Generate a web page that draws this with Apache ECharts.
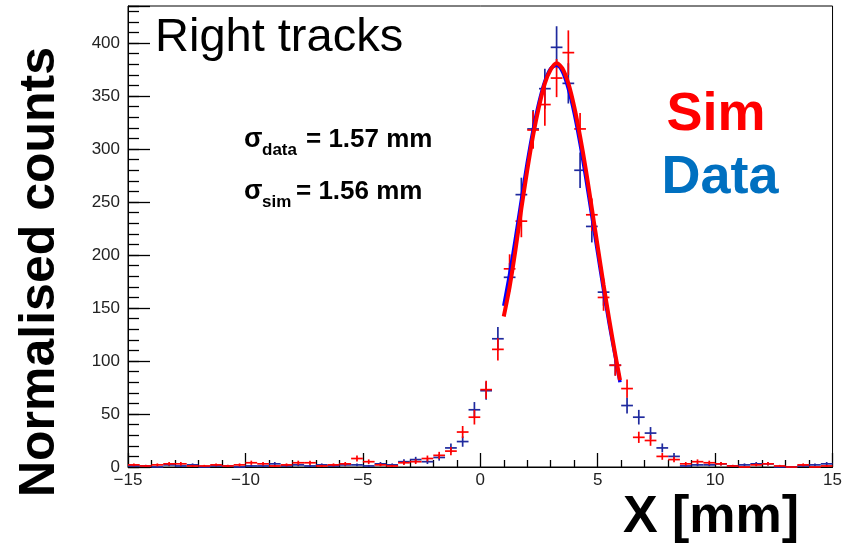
<!DOCTYPE html>
<html>
<head>
<meta charset="utf-8">
<script src="https://cdn.jsdelivr.net/npm/echarts/dist/echarts.min.js"></script>
<style>
html,body{margin:0;padding:0;background:#fff;}
#chart{width:845px;height:550px;}
</style>
</head>
<body>
<div id="chart"></div>
<script>
// Histogram bin centres (mm), bin width 0.5 mm
const binCenters = [-14.75,-14.25,-13.75,-13.25,-12.75,-12.25,-11.75,-11.25,-10.75,-10.25,
  -9.75,-9.25,-8.75,-8.25,-7.75,-7.25,-6.75,-6.25,-5.75,-5.25,
  -4.75,-4.25,-3.75,-3.25,-2.75,-2.25,-1.75,-1.25,-0.75,-0.25,
  0.25,0.75,1.25,1.75,2.25,2.75,3.25,3.75,4.25,4.75,
  5.25,5.75,6.25,6.75,7.25,7.75,8.25,8.75,9.25,9.75,
  10.25,10.75,11.25,11.75,12.25,12.75,13.25,13.75,14.25,14.75];
const binWidth = 0.5;

// Data (blue)
const dataValues = [1,1,0,2,1,2,0,1,1,0,
  1,1,3,1,2,1,2,1,2,2,
  1,3,2,5,7,5,9,18,24,54,
  72,121,179,257,319,357,396,362,280,227,
  165,96,58,47,32,18,10,1,2,2,
  3,1,2,3,3,0,0,1,2,3];
const dataErrors = [1,1,0,1.4,1,1.4,0,1,1,0,
  1,1,1.7,1,1.4,1,1.4,1,1.4,1.4,
  1,1.7,1.4,2.2,2.6,2.2,3,4.2,4.9,7.3,
  8.5,11,13.4,16,17.9,18.9,19.9,19,16.7,15.1,
  12.8,9.8,7.6,6.9,5.7,4.2,3.2,1,1.4,1.4,
  1.7,1,1.4,1.7,1.7,0,0,1,1.4,1.7];

// Simulation (red)
const simValues = [2,1,2,3,3,1,1,2,1,2,
  4,3,1,2,4,4,1,2,3,8,
  5,2,1,4,5,8,11,15,33,47,
  73,111,187,232,318,342,367,391,319,238,
  160,96,74,28,25,10,7,3,5,4,
  3,1,0,2,3,1,0,2,0,1];
const simErrors = [1.4,1,1.4,1.7,1.7,1,1,1.4,1,1.4,
  2,1.7,1,1.4,2,2,1,1.4,1.7,2.8,
  2.2,1.4,1,2,2.2,2.8,3.3,3.9,5.7,6.9,
  8.5,10.5,13.7,15.2,17.8,20,18,21,15,15.4,
  12.6,9.8,8.6,5.3,5,3.2,2.6,1.7,2.2,2,
  1.7,1,0,1.4,1.7,1,0,1.4,0,1];

// Gaussian fit curves
const fitX = [1.0,1.25,1.5,1.75,2.0,2.25,2.5,2.75,3.0,3.25,3.5,3.75,4.0,4.25,4.5,4.75,5.0,5.25,5.5,5.75,5.95];
const dataFit = [152,182,216,252,287,318,344,364,376,379,373,357,334,305,272,237,202,167,134,104,80];
const simFit = [142,170,205,244,280,313,340,362,375,381,376,362,340,312,280,244,208,172,138,106,82];

// Axis ticks
const xTickLabels = [-15,-10,-5,0,5,10,15];
const yTickLabels = [0,50,100,150,200,250,300,350,400];

const FONT = 'Liberation Sans';

function zip3(a,b,c){ const out=[]; for(let i=0;i<a.length;i++) out.push([a[i],b[i],c[i]]); return out; }
function zip2(a,b){ const out=[]; for(let i=0;i<a.length;i++) out.push([a[i],b[i]]); return out; }

function crossRender(color){
  return function(params, api){
    const x = api.value(0), y = api.value(1), e = api.value(2);
    const l = api.coord([x - binWidth/2, y]);
    const r = api.coord([x + binWidth/2, y]);
    const children = [
      {type:'line', shape:{x1:l[0],y1:l[1],x2:r[0],y2:r[1]}, style:{stroke:color,lineWidth:1.7}}
    ];
    if (e > 0) {
      const t = api.coord([x, y + e]);
      const b = api.coord([x, Math.max(0, y - e)]);
      children.push({type:'line', shape:{x1:t[0],y1:t[1],x2:b[0],y2:b[1]}, style:{stroke:color,lineWidth:1.7}});
    }
    return {type:'group', children};
  };
}

function fmtX(v){
  if (xTickLabels.indexOf(v) < 0) return '';
  return v < 0 ? '\u2212' + (-v) : String(v);
}
function fmtY(v){ return yTickLabels.indexOf(v) < 0 ? '' : String(v); }

const chart = echarts.init(document.getElementById('chart'), null, {renderer:'canvas'});
const option = {
  animation:false,
  backgroundColor:'#ffffff',
  grid:{left:128, right:9, top:6, bottom:83, show:true, borderColor:'#000', borderWidth:1, backgroundColor:'transparent'},
  xAxis:[{
    type:'value', min:-15, max:15, interval:5, position:'bottom',
    axisLine:{show:true, onZero:false, lineStyle:{color:'#000', width:1}},
    axisTick:{show:true, inside:true, length:14, lineStyle:{color:'#000', width:1.3}},
    minorTick:{show:true, splitNumber:5, length:7, lineStyle:{color:'#000', width:1.3}},
    splitLine:{show:false},
    axisLabel:{formatter:fmtX, fontFamily:FONT, fontSize:17, color:'#222', margin:5}
  }],
  yAxis:[{
    type:'value', min:0, max:435, interval:50, position:'left',
    axisLine:{show:true, onZero:false, lineStyle:{color:'#000', width:1}},
    axisTick:{show:true, inside:true, length:22, lineStyle:{color:'#000', width:1.3}},
    splitLine:{show:false},
    axisLabel:{formatter:fmtY, fontFamily:FONT, fontSize:17, color:'#222', margin:8}
  },{
    type:'value', min:0, max:435, interval:10, position:'left',
    axisLine:{show:false, onZero:false},
    axisTick:{show:true, inside:true, length:11, lineStyle:{color:'#000', width:1.3}},
    splitLine:{show:false},
    axisLabel:{show:false}
  }],
  series:[
    {type:'custom', name:'Data', renderItem:crossRender('#1f2a9e'), data:zip3(binCenters,dataValues,dataErrors),
      encode:{x:0,y:1}, clip:false, z:2},
    {type:'custom', name:'Sim', renderItem:crossRender('#ff0000'), data:zip3(binCenters,simValues,simErrors),
      encode:{x:0,y:1}, clip:false, z:3},
    {type:'line', name:'Data fit', data:zip2(fitX,dataFit), symbol:'none', smooth:0.3,
      lineStyle:{color:'#0000ff', width:3.5}, z:4},
    {type:'line', name:'Sim fit', data:zip2(fitX,simFit), symbol:'none', smooth:0.3,
      lineStyle:{color:'#ff0000', width:4}, z:5}
  ],
  graphic:[
    {type:'text', x:155, y:38, style:{text:'Right tracks', font:'47px "Liberation Sans"', fill:'#000', textAlign:'left', textVerticalAlign:'middle'}},
    {type:'text', x:716, y:115, style:{text:'Sim', font:'bold 54px "Liberation Sans"', fill:'#ff0000', textAlign:'center', textVerticalAlign:'middle'}},
    {type:'text', x:720, y:178, style:{text:'Data', font:'bold 54px "Liberation Sans"', fill:'#0070c0', textAlign:'center', textVerticalAlign:'middle'}},
    {type:'text', x:40, y:272, rotation:Math.PI/2, style:{text:'Normalised counts', font:'bold 50px "Liberation Sans"', fill:'#000', textAlign:'center', textVerticalAlign:'middle'}},
    {type:'text', x:711, y:518, style:{text:'X [mm]', font:'bold 52px "Liberation Sans"', fill:'#000', textAlign:'center', textVerticalAlign:'middle'}},
    // sigma lines
    {type:'text', x:244, y:140, style:{text:'\u03c3', font:'bold 27px "Liberation Sans"', fill:'#000', textAlign:'left', textVerticalAlign:'middle'}},
    {type:'text', x:262, y:150, style:{text:'data', font:'bold 17px "Liberation Sans"', fill:'#000', textAlign:'left', textVerticalAlign:'middle'}},
    {type:'text', x:306, y:140, style:{text:'= 1.57 mm', font:'bold 26px "Liberation Sans"', fill:'#000', textAlign:'left', textVerticalAlign:'middle'}},
    {type:'text', x:244, y:192, style:{text:'\u03c3', font:'bold 27px "Liberation Sans"', fill:'#000', textAlign:'left', textVerticalAlign:'middle'}},
    {type:'text', x:262, y:202, style:{text:'sim', font:'bold 17px "Liberation Sans"', fill:'#000', textAlign:'left', textVerticalAlign:'middle'}},
    {type:'text', x:296, y:192, style:{text:'= 1.56 mm', font:'bold 26px "Liberation Sans"', fill:'#000', textAlign:'left', textVerticalAlign:'middle'}}
  ]
};
chart.setOption(option);
</script>
</body>
</html>
